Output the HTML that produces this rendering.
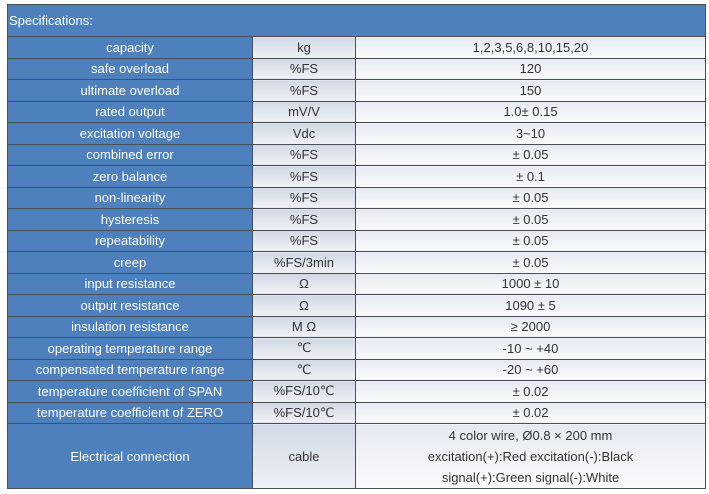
<!DOCTYPE html>
<html><head><style>
body{margin:0;width:709px;height:494px;background:#fff;overflow:hidden;font-family:"Liberation Sans","DejaVu Sans",sans-serif;}
table{position:absolute;left:7px;top:4px;border-collapse:collapse;width:699px;table-layout:fixed;}
td{border:1px solid #4a4f57;text-align:center;font-size:13px;padding:0;height:20.5px;color:#333;}
td.l{background:#4d80bd;color:#fff;}
td.u{background:linear-gradient(#d2d9e5,#eef1f6);}
td.v{background:linear-gradient(#e6eaf1,#fafbfc);}
th{background:#4d80bd;color:#fff;text-align:left;font-weight:normal;font-size:13px;height:29px;border:1px solid #4a4f57;padding-left:1px;}
.big td{height:64px;line-height:21px;}
</style></head><body>
<table>
<colgroup><col style="width:245px"><col style="width:103px"><col></colgroup>
<tr><th colspan="3">Specifications:</th></tr>
<tr><td class="l">capacity</td><td class="u">kg</td><td class="v">1,2,3,5,6,8,10,15,20</td></tr>
<tr><td class="l">safe overload</td><td class="u">%FS</td><td class="v">120</td></tr>
<tr><td class="l">ultimate overload</td><td class="u">%FS</td><td class="v">150</td></tr>
<tr><td class="l">rated output</td><td class="u">mV/V</td><td class="v">1.0± 0.15</td></tr>
<tr><td class="l">excitation voltage</td><td class="u">Vdc</td><td class="v">3~10</td></tr>
<tr><td class="l">combined error</td><td class="u">%FS</td><td class="v">± 0.05</td></tr>
<tr><td class="l">zero balance</td><td class="u">%FS</td><td class="v">± 0.1</td></tr>
<tr><td class="l">non-linearity</td><td class="u">%FS</td><td class="v">± 0.05</td></tr>
<tr><td class="l">hysteresis</td><td class="u">%FS</td><td class="v">± 0.05</td></tr>
<tr><td class="l">repeatability</td><td class="u">%FS</td><td class="v">± 0.05</td></tr>
<tr><td class="l">creep</td><td class="u">%FS/3min</td><td class="v">± 0.05</td></tr>
<tr><td class="l">input resistance</td><td class="u">Ω</td><td class="v">1000 ± 10</td></tr>
<tr><td class="l">output resistance</td><td class="u">Ω</td><td class="v">1090 ± 5</td></tr>
<tr><td class="l">insulation resistance</td><td class="u">M Ω</td><td class="v">≥ 2000</td></tr>
<tr><td class="l">operating temperature range</td><td class="u">℃</td><td class="v">-10 ~ +40</td></tr>
<tr><td class="l">compensated temperature range</td><td class="u">℃</td><td class="v">-20 ~ +60</td></tr>
<tr><td class="l">temperature coefficient of SPAN</td><td class="u">%FS/10℃</td><td class="v">± 0.02</td></tr>
<tr><td class="l">temperature coefficient of ZERO</td><td class="u">%FS/10℃</td><td class="v">± 0.02</td></tr>
<tr class="big"><td class="l">Electrical connection</td><td class="u">cable</td><td class="v">4 color wire, Ø0.8 × 200 mm<br>excitation(+):Red excitation(-):Black<br>signal(+):Green signal(-):White</td></tr>
</table>
</body></html>
